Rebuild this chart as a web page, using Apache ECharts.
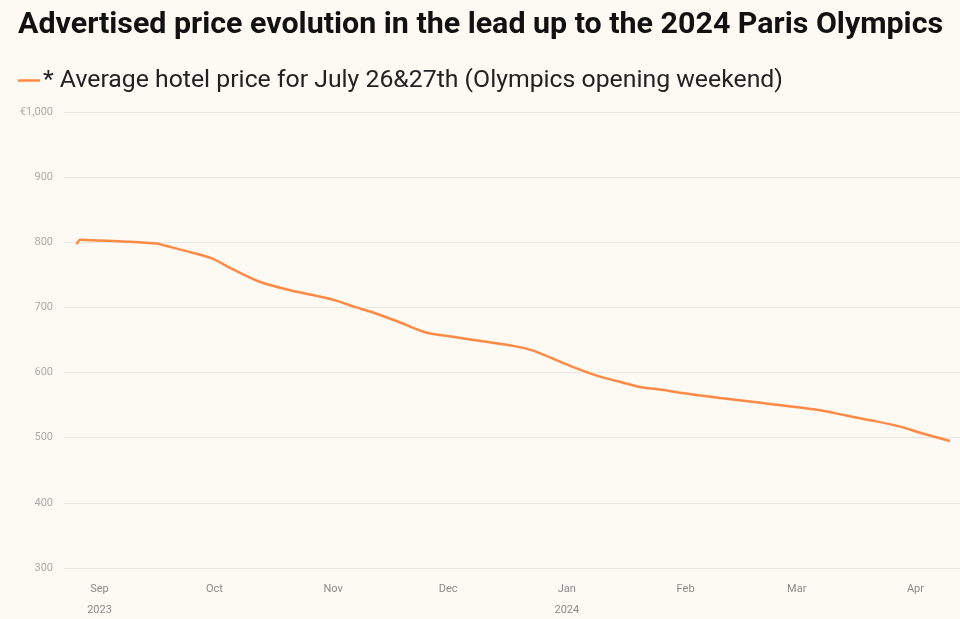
<!DOCTYPE html>
<html><head><meta charset="utf-8">
<script src="https://cdn.jsdelivr.net/npm/echarts@6/dist/echarts.min.js"></script>
<style>html,body{margin:0;padding:0;background:#fdfaf3;}#c{width:960px;height:619px;}</style>
</head><body><div id="c"></div>
<script>
const dates = ['2023-08-26','2023-08-27','2023-08-30','2023-09-08','2023-09-16','2023-09-18','2023-09-24','2023-09-30','2023-10-06','2023-10-13','2023-10-21','2023-10-29','2023-11-02','2023-11-07','2023-11-11','2023-11-18','2023-11-25','2023-12-01','2023-12-10','2023-12-18','2023-12-23','2024-01-02','2024-01-09','2024-01-14','2024-01-20','2024-01-24','2024-02-02','2024-02-10','2024-02-20','2024-02-27','2024-03-07','2024-03-14','2024-03-21','2024-03-28','2024-04-02','2024-04-10'];
const prices = [797,804,803,801,798,795,786,776,758,739,726,716,710,700,693,678,662,656,648,641,634,610,595,587,578,575,567,561,554,549,542,534,526,517,508,495];
const yTicks = [300,400,500,600,700,800,900,1000];
const monthNames = ['Jan','Feb','Mar','Apr','May','Jun','Jul','Aug','Sep','Oct','Nov','Dec'];
const seriesName = '* Average hotel price for July 26&27th (Olympics opening weekend)';

const DAY = 86400000;
const xMin = Date.UTC(2023,8,1) - 9.27*DAY;
const xMax = xMin + 233.9*DAY;
const chart = echarts.init(document.getElementById('c'));
chart.setOption({
  backgroundColor:'#fdfaf3',
  animation:false,
  title:{text:'Advertised price evolution in the lead up to the 2024 Paris Olympics',left:13,top:5,
    textStyle:{fontFamily:'Roboto',fontWeight:'bold',fontSize:30.4,color:'#111'}},
  legend:{left:13,top:63,icon:'rect',itemWidth:22,itemHeight:2.5,itemGap:6,
    textStyle:{fontFamily:'Roboto',fontSize:24.8,color:'#222',padding:[0,0,0,-2]},data:[seriesName]},
  grid:{left:64,right:0,top:112,bottom:51,containLabel:false,outerBoundsMode:'none'},
  xAxis:{type:'time',min:xMin,max:xMax,minInterval:28*DAY,maxInterval:31*DAY,
    axisLine:{show:false},axisTick:{show:false},splitLine:{show:false},
    axisLabel:{showMinLabel:false,showMaxLabel:false,margin:11,color:'#8a8a8a',fontFamily:'Roboto',fontSize:11,lineHeight:21,
      formatter:function(v){const d=new Date(v);const m=d.getUTCMonth();let s=monthNames[m];if(m===0||m===8){s+='\n'+d.getUTCFullYear();}return s;}}},
  yAxis:{type:'value',min:yTicks[0],max:yTicks[yTicks.length-1],interval:100,
    axisLine:{show:false},axisTick:{show:false},
    splitLine:{lineStyle:{color:'#e9e7e2',width:1}},
    axisLabel:{margin:11,color:'#aaaaaa',fontFamily:'Roboto',fontSize:11,
      formatter:function(v){return v===1000?'€1,000':String(v);}}},
  series:[{name:seriesName,type:'line',showSymbol:false,smooth:0.3,
    lineStyle:{color:'#ff8a45',width:2.5},itemStyle:{color:'#ff8a45'},
    data:dates.map((d,i)=>[d,prices[i]])}]
});
</script></body></html>
